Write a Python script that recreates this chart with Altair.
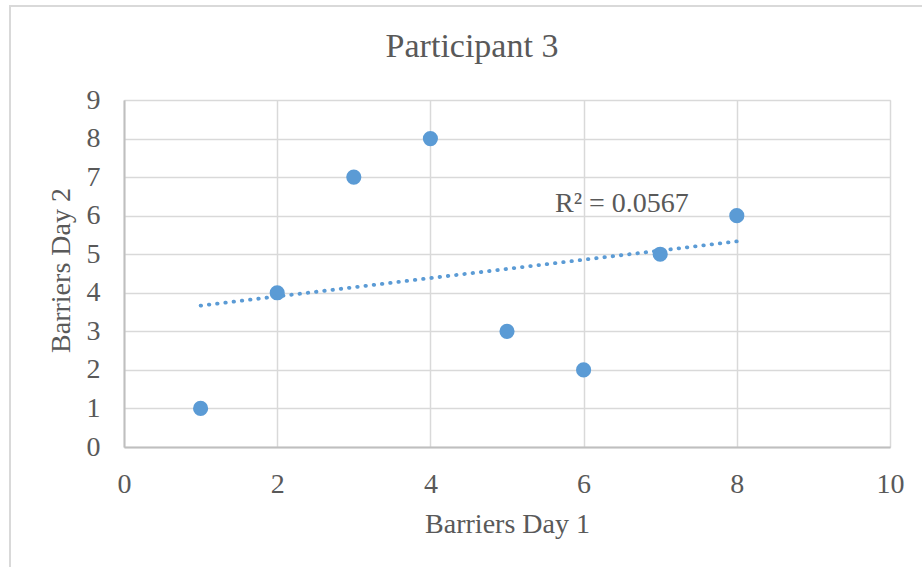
import altair as alt
import pandas as pd
import numpy as np

# ---- data ----
title_text = "Participant 3"
x_title = "Barriers Day 1"
y_title = "Barriers Day 2"
x_vals = [1, 2, 3, 4, 5, 6, 7, 8]
y_vals = [1, 4, 7, 8, 3, 2, 5, 6]
x_ticks = [0, 2, 4, 6, 8, 10]
y_ticks = [0, 1, 2, 3, 4, 5, 6, 7, 8, 9]

r = np.corrcoef(x_vals, y_vals)[0, 1]
r2_label = f"R\u00b2 = {r * r:.4f}"

df = pd.DataFrame({"x": x_vals, "y": y_vals})
label_df = pd.DataFrame({"x": [6.5], "y": [6.09], "label": [r2_label]})

# ---- style ----
FONT = "Liberation Serif"
TEXT = "#595959"
BLUE = "#5B9BD5"
GRID = "#D9D9D9"
W, H = 766, 347

xscale = alt.Scale(domain=[0, 10], nice=False, zero=False)
yscale = alt.Scale(domain=[0, 9], nice=False, zero=False)

xaxis = alt.Axis(
    values=x_ticks, title=x_title, ticks=False, tickSize=0, format="d",
    labelPadding=23, labelFont=FONT, labelFontSize=28, labelColor=TEXT,
    labelFlush=False, labelOverlap=False,
    titleFont=FONT, titleFontSize=28, titleFontWeight="normal", titleColor=TEXT,
    titleBaseline="alphabetic", titleY=85,
    gridColor=GRID, gridWidth=1.5, domainColor="#BFBFBF", domainWidth=2,
)
yaxis = alt.Axis(
    values=y_ticks, title=y_title, ticks=False, tickSize=0, format="d",
    labelPadding=24, labelFont=FONT, labelFontSize=28, labelColor=TEXT,
    labelFlush=False, labelOverlap=False,
    titleFont=FONT, titleFontSize=28, titleFontWeight="normal", titleColor=TEXT,
    titleBaseline="alphabetic", titleX=-55, titleY=170, titleAngle=-90,
    gridColor=GRID, gridWidth=1.5, domainColor="#BFBFBF", domainWidth=2,
)

X = alt.X("x:Q", scale=xscale, axis=xaxis)
Y = alt.Y("y:Q", scale=yscale, axis=yaxis)

border = alt.Chart(pd.DataFrame({"a": [0]})).mark_rect(
    fillOpacity=0, stroke=GRID, strokeWidth=2
).encode(
    x=alt.value(-114), x2=alt.value(W + 80),
    y=alt.value(-94), y2=alt.value(H + 160),
)

points = alt.Chart(df).mark_circle(size=230, color=BLUE, opacity=1).encode(x=X, y=Y)

trend = alt.Chart(df).transform_regression("x", "y").mark_line(
    color=BLUE, strokeWidth=3.8, strokeDash=[0.5, 7.8], strokeCap="round"
).encode(x=X, y=Y)

label = alt.Chart(label_df).mark_text(
    font=FONT, fontSize=28, color=TEXT, align="center", baseline="alphabetic"
).encode(x=X, y=Y, text="label:N")

chart = alt.layer(border, points, trend, label).properties(
    width=W, height=H,
    title=alt.TitleParams(
        title_text, font=FONT, fontSize=34, color=TEXT, fontWeight="normal",
        anchor="middle", dx=-35, dy=127, baseline="alphabetic", offset=41,
    ),
    autosize=alt.AutoSizeParams(type="none"),
    padding={"left": 124, "top": 100, "right": 32, "bottom": 120},
).configure_view(stroke=None).configure(background="white")

chart.save("out.html", embed_options={"renderer": "svg", "actions": False})
